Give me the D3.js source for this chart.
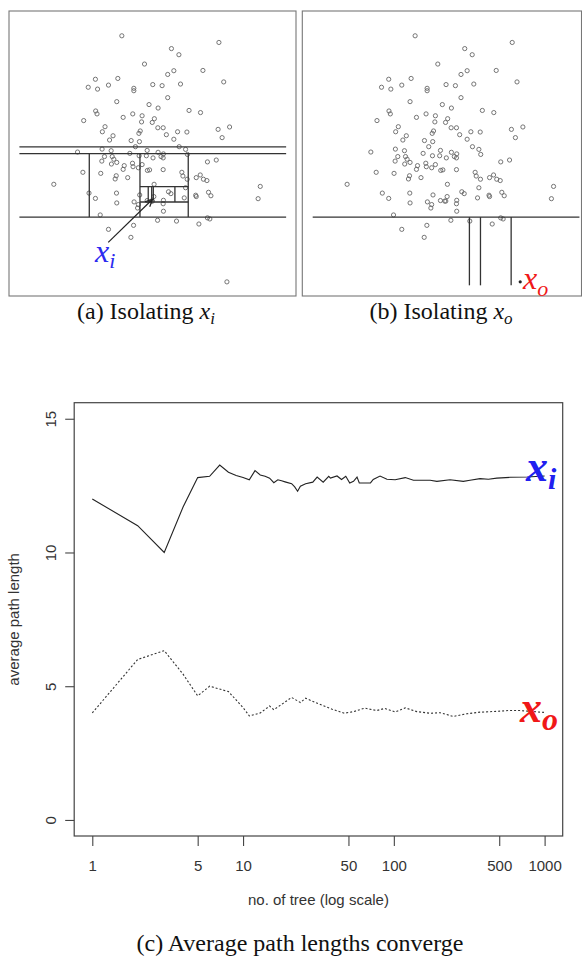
<!DOCTYPE html>
<html>
<head>
<meta charset="utf-8">
<script src="https://cdn.jsdelivr.net/npm/d3@7"></script>
<style>
  body { margin: 0; background: white; }
  svg { display: block; }
  text { font-family: "Liberation Sans", Arial, Helvetica, sans-serif; }
  .serif { font-family: "Liberation Serif", "Times New Roman", Times, serif; }
</style>
</head>
<body>
<svg width="582" height="958"></svg>
<script>
let width = 582;
let height = 958;

// the sample, same in (a) and (b), in plot units 0..100
let points = [
  [38.4,93.6],[74.8,91.1],[57.0,88.8],[59.8,86.5],[46.9,83.0],[68.8,80.6],[57.9,80.5],[55.6,79.1],
  [28.5,77.3],[36.9,77.6],[76.6,76.3],[25.8,74.3],[29.3,73.6],[33.4,75.1],[42.9,73.9],[42.9,73.0],
  [50.0,75.3],[53.5,74.9],[60.4,75.5],[55.6,70.4],[36.5,68.9],[48.6,67.8],[52.0,66.5],[63.6,65.6],
  [67.9,64.8],[28.6,65.4],[29.1,64.3],[24.1,61.8],[38.9,63.0],[42.5,64.3],[46.0,63.6],[50.6,62.5],
  [49.8,61.1],[45.8,61.3],[32.1,59.5],[31.1,57.6],[78.8,59.4],[74.5,58.5],[76.0,55.4],[35.1,56.1],
  [33.8,54.5],[41.9,54.3],[45.3,57.9],[44.8,57.0],[51.9,59.1],[53.9,59.1],[55.1,56.5],[59.3,57.6],
  [62.8,57.5],[57.9,54.8],[59.9,52.0],[62.3,51.0],[63.0,49.1],[21.8,50.0],[31.0,51.1],[34.4,50.5],
  [34.8,48.3],[31.9,48.3],[30.9,46.6],[35.4,47.3],[34.5,45.5],[36.5,46.1],[41.4,49.5],[43.5,52.0],
  [45.0,53.9],[47.9,50.6],[44.9,48.6],[47.6,48.6],[50.1,47.8],[52.0,49.9],[53.1,48.3],[54.0,49.3],
  [53.9,47.8],[39.3,44.9],[42.4,45.8],[42.6,44.5],[44.6,44.1],[46.0,45.3],[48.0,43.1],[48.8,43.3],
  [38.9,43.5],[53.9,43.4],[70.5,46.3],[73.8,47.0],[23.8,42.4],[30.5,42.0],[36.3,41.1],[35.9,39.9],
  [40.6,40.4],[60.9,42.4],[61.3,41.0],[62.9,39.8],[66.3,40.4],[67.8,41.4],[69.0,39.8],[70.3,39.3],
  [12.9,37.9],[50.5,37.9],[62.3,36.6],[90.3,37.1],[89.5,32.5],[26.1,34.6],[28.5,32.6],[36.4,34.6],
  [36.5,30.9],[45.1,33.9],[43.0,31.3],[44.6,30.3],[44.3,29.0],[47.9,31.8],[49.5,31.6],[49.9,31.6],
  [50.4,33.3],[54.0,31.9],[53.9,30.6],[55.9,35.1],[56.8,34.4],[61.8,32.8],[66.1,33.8],[66.3,33.3],
  [70.9,34.9],[71.8,33.6],[54.0,27.8],[30.3,26.4],[33.4,21.0],[42.8,22.5],[41.8,18.0],[51.8,24.4],
  [58.9,24.1],[67.3,23.0],[70.5,25.3],[71.4,24.9]
];
let xiPoint = [49.9, 32.3];
let xoPoint = [77.8, 1.3];
let arrowFrom = [33.3, 16.1];

// isolation cuts [x1, y1, x2, y2]
let cutsA = [
  [0, 51.9, 100, 51.9],
  [0, 49.4, 100, 49.4],
  [0, 25.6, 100, 25.6],
  [26.2, 25.6, 26.2, 49.4],
  [45.2, 25.6, 45.2, 49.4],
  [63.3, 25.6, 63.3, 49.4],
  [45.2, 37.0, 63.3, 37.0],
  [45.2, 31.25, 63.3, 31.25],
  [58.3, 31.25, 58.3, 37.0],
  [48.3, 31.25, 48.3, 37.0],
  [49.6, 31.25, 49.6, 37.0],
  [50.2, 31.9, 50.2, 37.0]
];
let cutsB = [
  [0, 25.6, 100, 25.6],
  [58.75, 0, 58.75, 25.6],
  [62.9, 0, 62.9, 25.6],
  [74.4, 0, 74.4, 25.6]
];

// (c) average path length vs number of trees
let xiPath = [
  [1,12.0],[2,11.0],[3,10.0],[4,11.7],[5,12.8],[6,12.85],[7,13.27],[8,13.0],[9,12.88],[10,12.8],
  [11,12.72],[12,13.06],[13,12.9],[14,12.85],[15,12.78],[16,12.61],[17,12.72],[18,12.68],[19,12.64],
  [21,12.57],[22,12.45],[23,12.29],[24,12.48],[26,12.57],[29,12.63],[31,12.82],[34,12.63],[37,12.85],
  [38,12.78],[42,12.86],[45,12.73],[48,12.85],[51,12.6],[54,12.66],[57,12.82],[59,12.6],[70,12.6],
  [73,12.73],[81,12.86],[90,12.74],[102,12.72],[119,12.8],[135,12.7],[174,12.7],[193,12.66],
  [236,12.72],[289,12.66],[320,12.7],[373,12.76],[424,12.74],[482,12.78],[590,12.81],[766,12.82],
  [1000,12.86]
];
let xoPath = [
  [1,4.0],[2,6.0],[3,6.33],[4,5.45],[5,4.64],[6,5.0],[8,4.8],[10,4.2],[11,3.89],[13,4.0],[15,4.26],
  [16,4.12],[21,4.58],[24,4.39],[26,4.55],[32,4.33],[39,4.14],[47,3.99],[54,4.05],[64,4.18],[77,4.09],
  [87,4.17],[102,4.04],[119,4.19],[142,4.05],[174,3.99],[203,4.01],[248,3.87],[305,3.97],[373,4.03],
  [413,4.04],[507,4.07],[575,4.09],[684,4.09],[1000,4.02]
];
let xTicks = [1, 5, 10, 50, 100, 500, 1000];
let yTicks = [0, 5, 10, 15];

let svg = d3.select('svg');

function mathText(g, x, y, base, sub, size, subSize, dy, color, weight) {
  let t = g.append('text')
    .attr('class', 'serif')
    .attr('x', x)
    .attr('y', y)
    .attr('fill', color)
    .attr('font-style', 'italic')
    .attr('font-weight', weight || 'normal')
    ;
  t.append('tspan').attr('font-size', size).text(base);
  t.append('tspan').attr('font-size', subSize).attr('dy', dy).text(sub);
}

function caption(x, y, label, base, sub) {
  let t = svg.append('text')
    .attr('class', 'serif')
    .attr('x', x)
    .attr('y', y)
    .attr('text-anchor', 'middle')
    .attr('font-size', 24)
    .attr('fill', '#111')
    ;
  t.append('tspan').text(label);
  if (base) {
    t.append('tspan').attr('font-style', 'italic').text(base);
    t.append('tspan').attr('font-style', 'italic').attr('font-size', 17).attr('dy', 5).text(sub);
  }
}

// ---- panels (a) and (b)
let panels = [
  {left: 9, right: 296, cuts: cutsA, name: 'a'},
  {left: 302.3, right: 581.5, cuts: cutsB, name: 'b'}
];

panels.forEach(p => {
  let x = d3.scaleLinear().domain([-3.9, 103.7]).range([p.left, p.left + 287]);
  let y = d3.scaleLinear().domain([-4, 102.9]).range([296, 11]);
  let g = svg.append('g');

  g.append('rect')
    .attr('x', p.left)
    .attr('y', 11)
    .attr('width', p.right - p.left)
    .attr('height', 285)
    .attr('fill', 'none')
    .attr('stroke', '#777')
    .attr('stroke-width', 1.1)
    ;

  let circles = p.name == 'a' ? points.concat([xoPoint]) : points;
  g.selectAll('circle')
    .data(circles)
    .enter()
      .append('circle')
      .attr('cx', d => x(d[0]))
      .attr('cy', d => y(d[1]))
      .attr('r', 2.1)
      .attr('fill', 'none')
      .attr('stroke', '#666')
      .attr('stroke-width', 0.9)
    ;

  g.selectAll('line.cut')
    .data(p.cuts)
    .enter()
      .append('line')
      .attr('class', 'cut')
      .attr('x1', d => x(d[0]))
      .attr('y1', d => y(d[1]))
      .attr('x2', d => x(d[2]))
      .attr('y2', d => y(d[3]))
      .attr('stroke', '#333')
      .attr('stroke-width', 1.3)
    ;

  if (p.name == 'a') {
    let x1 = x(arrowFrom[0]), y1 = y(arrowFrom[1]);
    let x2 = x(xiPoint[0]), y2 = y(xiPoint[1]);
    let ang = Math.atan2(y2 - y1, x2 - x1);
    g.append('line')
      .attr('x1', x1).attr('y1', y1)
      .attr('x2', x2).attr('y2', y2)
      .attr('stroke', '#222')
      .attr('stroke-width', 1.2)
      ;
    [-0.45, 0.45].forEach(a => {
      g.append('line')
        .attr('x1', x2).attr('y1', y2)
        .attr('x2', x2 - 8 * Math.cos(ang + a))
        .attr('y2', y2 - 8 * Math.sin(ang + a))
        .attr('stroke', '#222')
        .attr('stroke-width', 1.2)
        ;
    });
    mathText(g, 95, 262, 'x', 'i', 32, 22, 6, '#2b2bf0');
  } else {
    g.append('circle')
      .attr('cx', x(xoPoint[0]))
      .attr('cy', y(xoPoint[1]))
      .attr('r', 1.6)
      .attr('fill', '#222')
      ;
    mathText(g, 523, 289, 'x', 'o', 32, 22, 7, '#f01818');
  }
});

caption(146, 319, '(a) Isolating ', 'x', 'i');
caption(441, 319, '(b) Isolating ', 'x', 'o');

// ---- panel (c)
let box = {left: 74.2, right: 562.7, top: 402.7, bottom: 836};
let x = d3.scaleLog()
  .domain([Math.pow(10, -0.12), Math.pow(10, 3.12)])
  .range([box.left, box.right]);
let y = d3.scaleLinear()
  .domain([-0.6, 15.6])
  .range([box.bottom, box.top]);

let c = svg.append('g');

c.append('rect')
  .attr('x', box.left)
  .attr('y', box.top)
  .attr('width', box.right - box.left)
  .attr('height', box.bottom - box.top)
  .attr('fill', 'none')
  .attr('stroke', '#444')
  .attr('stroke-width', 1.2)
  ;

let line = d3.line()
  .x(d => x(d[0]))
  .y(d => y(d[1]));

c.append('path')
  .attr('d', line(xiPath))
  .attr('fill', 'none')
  .attr('stroke', '#222')
  .attr('stroke-width', 1.1)
  ;
c.append('path')
  .attr('d', line(xoPath))
  .attr('fill', 'none')
  .attr('stroke', '#333')
  .attr('stroke-width', 1.1)
  .attr('stroke-dasharray', '2,2')
  ;

// axes
let xAxis = c.append('g')
  .attr('transform', `translate(0,${box.bottom})`)
  .call(d3.axisBottom(x).tickValues(xTicks).tickFormat(d3.format('d')).tickSize(10).tickPadding(14));
let yAxis = c.append('g')
  .attr('transform', `translate(${box.left},0)`)
  .call(d3.axisLeft(y).tickValues(yTicks).tickSize(9).tickPadding(6));

[xAxis, yAxis].forEach(a => {
  a.select('.domain').remove();
  a.selectAll('line').attr('stroke', '#444').attr('stroke-width', 1.1);
  a.selectAll('text')
    .attr('font-family', '"Liberation Sans", Arial, sans-serif')
    .attr('font-size', 15)
    .attr('fill', '#333')
    ;
});
yAxis.selectAll('text')
  .attr('text-anchor', 'middle')
  .attr('dy', null)
  .attr('x', null)
  .attr('transform', 'translate(-18.5,0) rotate(-90)')
  .attr('y', 0)
  ;

c.append('text')
  .attr('x', (box.left + box.right) / 2)
  .attr('y', 905)
  .attr('text-anchor', 'middle')
  .attr('font-size', 15)
  .attr('fill', '#333')
  .text('no. of tree (log scale)')
  ;
c.append('text')
  .attr('transform', `translate(18.5,${(box.top + box.bottom) / 2}) rotate(-90)`)
  .attr('text-anchor', 'middle')
  .attr('font-size', 15)
  .attr('fill', '#333')
  .text('average path length')
  ;

mathText(c, 526, 481, 'x', 'i', 44, 30, 8, '#2020f0', 'bold');
mathText(c, 520, 722, 'x', 'o', 44, 32, 8, '#f01818', 'bold');

caption(300, 951, '(c) Average path lengths converge');
</script>
</body>
</html>
